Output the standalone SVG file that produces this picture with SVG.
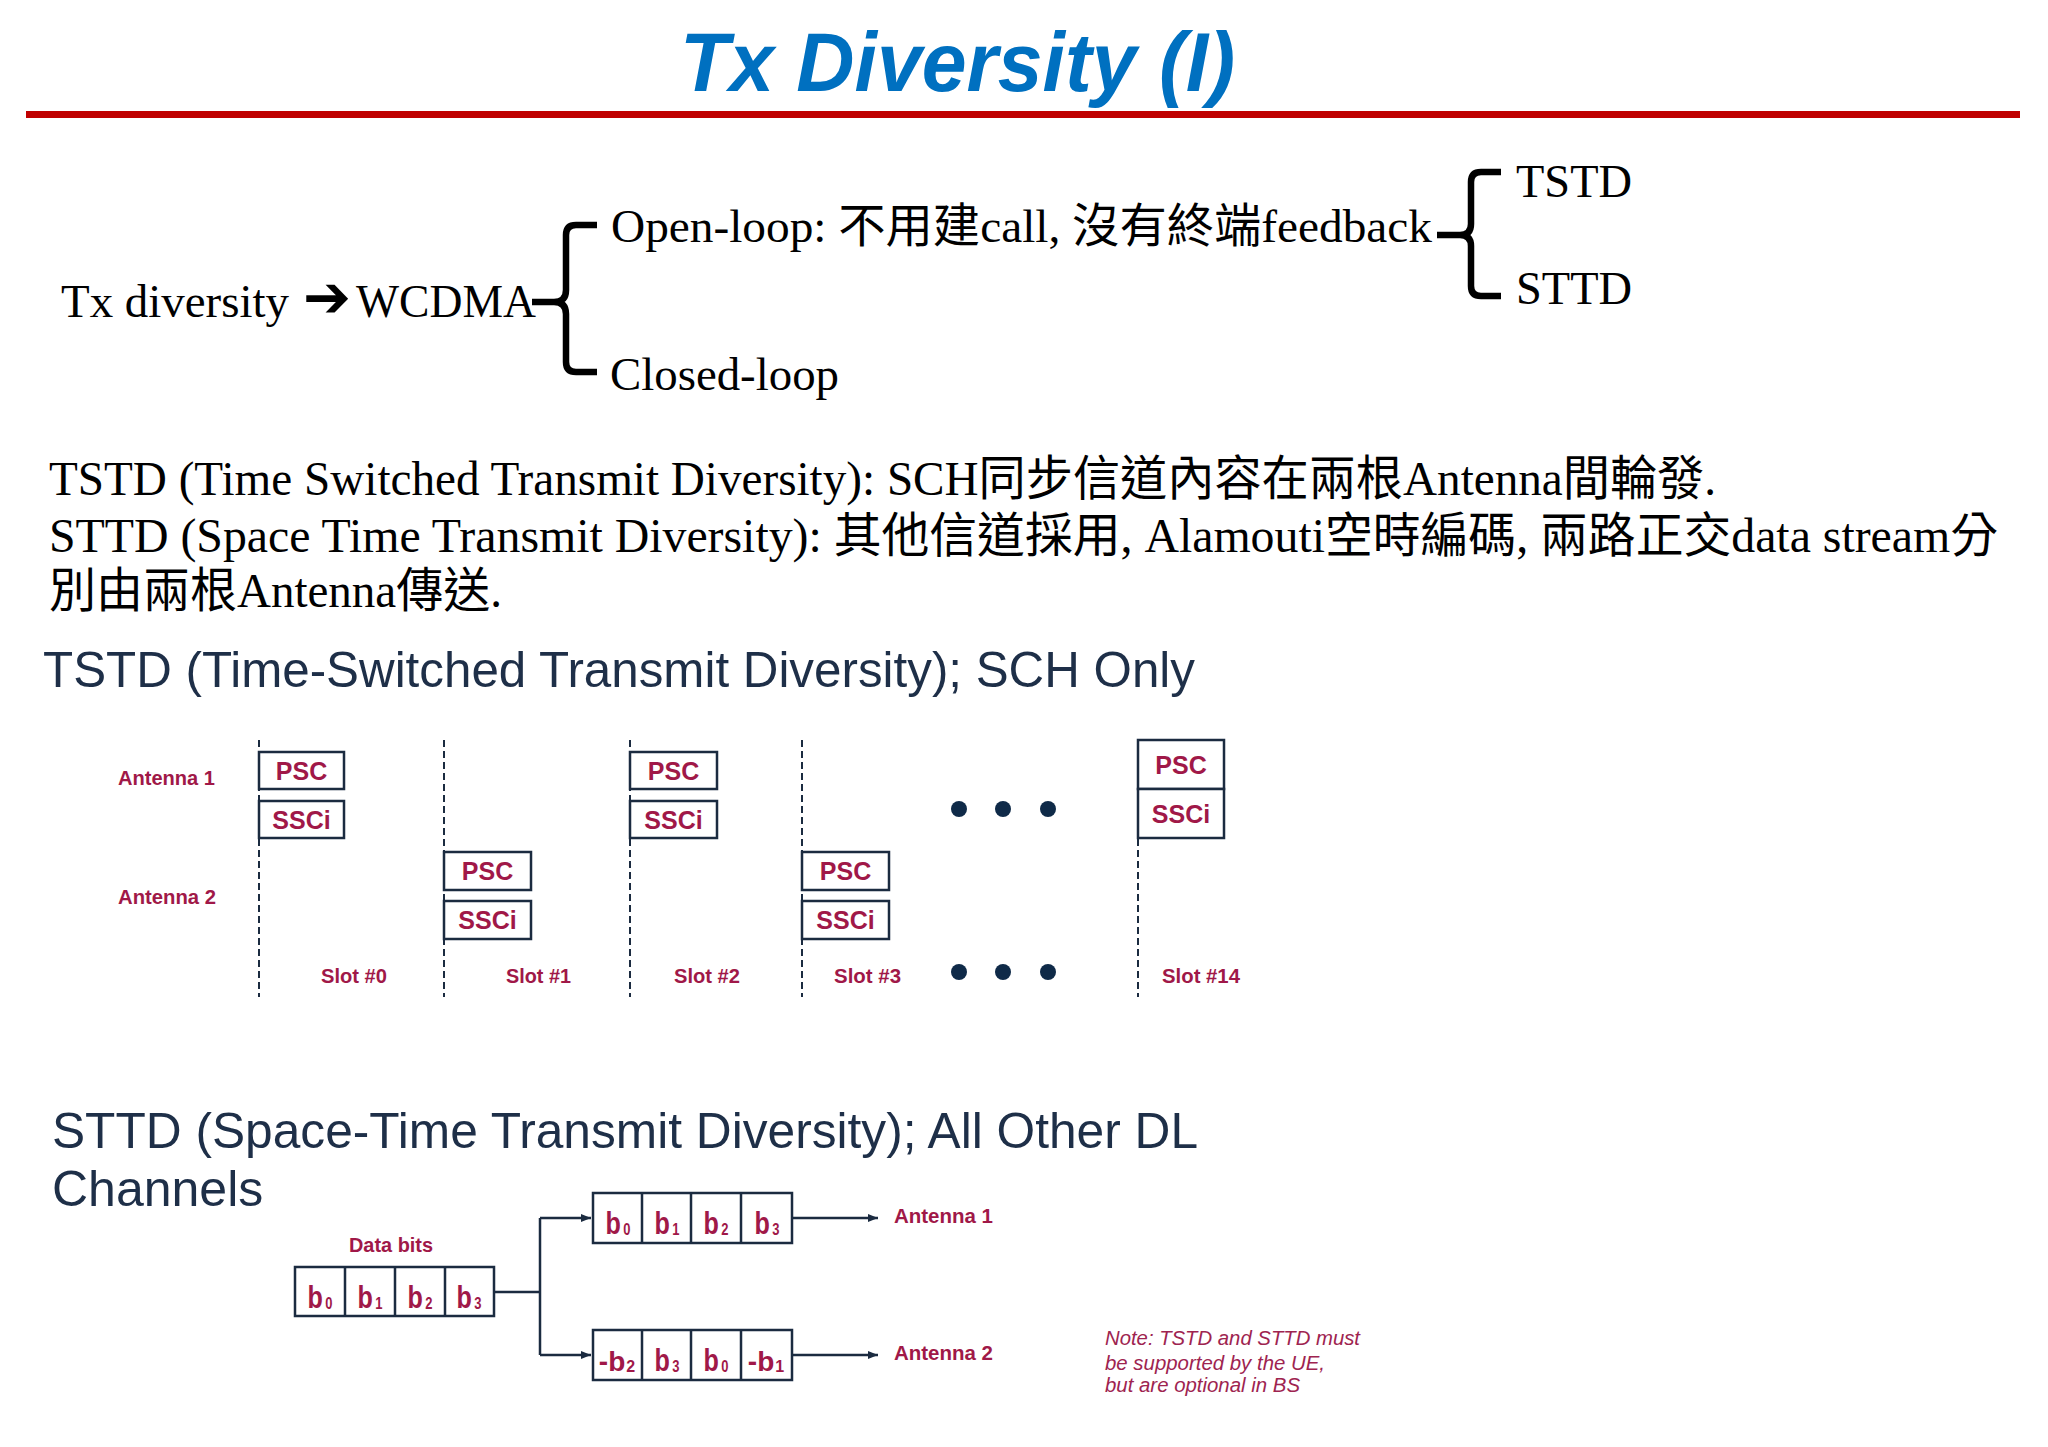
<svg xmlns="http://www.w3.org/2000/svg" width="2048" height="1447" viewBox="0 0 2048 1447">
<defs>
<style>
.serif{font-family:'Liberation Serif','Noto Sans CJK TC',serif;fill:#000}
.t47{font-size:47px}
.p48{font-size:48px}
.head{font-family:'Liberation Sans',Arial,sans-serif;font-size:50px;fill:#1E2F48}
.lbl{font-family:'Liberation Sans',Arial,sans-serif;font-weight:bold;fill:#A01848}
.s20{font-size:20px}
.s25{font-size:25px}
.cell{font-size:31px}
.ncell{font-size:28px}
.sub{font-size:16px}
.note{font-family:'Liberation Sans',Arial,sans-serif;font-style:italic;font-size:20px;fill:#9E2450}
.box{fill:#fff;stroke:#1B2B40;stroke-width:2.5}
.dash{stroke:#1B2B40;stroke-width:2;stroke-dasharray:7 4;fill:none}
.conn{stroke:#1B2B40;stroke-width:2.5;fill:none}
.brace{stroke:#000;stroke-width:6.5;fill:none;stroke-linejoin:round;stroke-linecap:butt}
.dot{fill:#0F2A48}
</style>
<marker id="ah" viewBox="0 0 10 8" refX="10" refY="4" markerWidth="4" markerHeight="3.2" orient="auto" markerUnits="strokeWidth">
<path d="M0,0 L10,4 L0,8 z" fill="#1B2B40"/>
</marker>
</defs>
<rect width="2048" height="1447" fill="#fff"/>

<g id="title">
<text x="680" y="91" font-family="'Liberation Sans',Arial,sans-serif" font-weight="bold" font-style="italic" font-size="84" fill="#0070C0" textLength="555" lengthAdjust="spacingAndGlyphs">Tx Diversity (I)</text>
<rect x="26" y="111" width="1994" height="7" fill="#C00000"/>
</g>

<g id="tree">
<g id="node-tx"><text class="serif t47" x="61" y="317" textLength="228" lengthAdjust="spacingAndGlyphs">Tx diversity</text></g>
<g id="node-arrow"><text x="303" y="317" font-family="'DejaVu Sans',sans-serif" font-weight="bold" font-size="58" textLength="48" lengthAdjust="spacingAndGlyphs">➔</text></g>
<g id="node-wcdma"><text class="serif t47" x="356" y="317" textLength="180" lengthAdjust="spacingAndGlyphs">WCDMA</text></g>
<g id="node-open"><text class="serif t47" x="611" y="242" textLength="821" lengthAdjust="spacingAndGlyphs">Open-loop: 不用建call, 沒有終端feedback</text></g>
<g id="node-closed"><text class="serif t47" x="610" y="390" textLength="229" lengthAdjust="spacingAndGlyphs">Closed-loop</text></g>
<g id="node-tstd"><text class="serif t47" x="1516" y="197" textLength="116" lengthAdjust="spacingAndGlyphs">TSTD</text></g>
<g id="node-sttd"><text class="serif t47" x="1516" y="304" textLength="116" lengthAdjust="spacingAndGlyphs">STTD</text></g>
<g id="braces">
<path class="brace" d="M597,225 L576,225 Q566,225 566,235 L566,290 Q566,302 554,302 L532,302 M554,302 Q566,302 566,314 L566,362 Q566,372 576,372 L597,372"/>
<path class="brace" d="M1501,172 L1481,172 Q1471,172 1471,182 L1471,224 Q1471,235 1460,235 L1437,235 M1460,235 Q1471,235 1471,246 L1471,286 Q1471,296 1481,296 L1501,296"/>
</g>
</g>

<g id="paragraph">
<text class="serif p48" x="49" y="495" textLength="1667" lengthAdjust="spacingAndGlyphs">TSTD (Time Switched Transmit Diversity): SCH同步信道內容在兩根Antenna間輪發.</text>
<text class="serif p48" x="49" y="552" textLength="1949" lengthAdjust="spacingAndGlyphs">STTD (Space Time Transmit Diversity): 其他信道採用, Alamouti空時編碼, 兩路正交data stream分</text>
<text class="serif p48" x="49" y="607" textLength="453" lengthAdjust="spacingAndGlyphs">別由兩根Antenna傳送.</text>
</g>

<g id="tstd-figure">
<text class="head" x="43" y="687" textLength="1152" lengthAdjust="spacingAndGlyphs">TSTD (Time-Switched Transmit Diversity); SCH Only</text>
<g id="antenna-labels">
<text class="lbl s20" x="118" y="785" textLength="97" lengthAdjust="spacingAndGlyphs">Antenna 1</text>
<text class="lbl s20" x="118" y="904" textLength="98" lengthAdjust="spacingAndGlyphs">Antenna 2</text>
</g>
<g id="slot-lines">
<line class="dash" x1="259" y1="740" x2="259" y2="997"/>
<line class="dash" x1="444" y1="740" x2="444" y2="997"/>
<line class="dash" x1="630" y1="740" x2="630" y2="997"/>
<line class="dash" x1="802" y1="740" x2="802" y2="997"/>
<line class="dash" x1="1138" y1="740" x2="1138" y2="997"/>
</g>
<g id="slot0">
<rect class="box" x="259" y="752" width="85" height="37"/>
<text class="lbl s25" x="301.5" y="780" text-anchor="middle">PSC</text>
<rect class="box" x="259" y="801" width="85" height="37"/>
<text class="lbl s25" x="301.5" y="829" text-anchor="middle">SSCi</text>
<text class="lbl s20" x="321" y="983" textLength="66" lengthAdjust="spacingAndGlyphs">Slot #0</text>
</g>
<g id="slot1">
<rect class="box" x="444" y="852" width="87" height="38"/>
<text class="lbl s25" x="487.5" y="880" text-anchor="middle">PSC</text>
<rect class="box" x="444" y="901" width="87" height="38"/>
<text class="lbl s25" x="487.5" y="929" text-anchor="middle">SSCi</text>
<text class="lbl s20" x="506" y="983" textLength="65" lengthAdjust="spacingAndGlyphs">Slot #1</text>
</g>
<g id="slot2">
<rect class="box" x="630" y="752" width="87" height="37"/>
<text class="lbl s25" x="673.5" y="780" text-anchor="middle">PSC</text>
<rect class="box" x="630" y="801" width="87" height="37"/>
<text class="lbl s25" x="673.5" y="829" text-anchor="middle">SSCi</text>
<text class="lbl s20" x="674" y="983" textLength="66" lengthAdjust="spacingAndGlyphs">Slot #2</text>
</g>
<g id="slot3">
<rect class="box" x="802" y="852" width="87" height="38"/>
<text class="lbl s25" x="845.5" y="880" text-anchor="middle">PSC</text>
<rect class="box" x="802" y="901" width="87" height="38"/>
<text class="lbl s25" x="845.5" y="929" text-anchor="middle">SSCi</text>
<text class="lbl s20" x="834" y="983" textLength="67" lengthAdjust="spacingAndGlyphs">Slot #3</text>
</g>
<g id="ellipsis">
<circle class="dot" cx="959" cy="809" r="8"/>
<circle class="dot" cx="1003" cy="809" r="8"/>
<circle class="dot" cx="1048" cy="809" r="8"/>
<circle class="dot" cx="959" cy="972" r="8"/>
<circle class="dot" cx="1003" cy="972" r="8"/>
<circle class="dot" cx="1048" cy="972" r="8"/>
</g>
<g id="slot14">
<rect class="box" x="1138" y="740" width="86" height="49"/>
<text class="lbl s25" x="1181" y="774" text-anchor="middle">PSC</text>
<rect class="box" x="1138" y="789" width="86" height="49"/>
<text class="lbl s25" x="1181" y="823" text-anchor="middle">SSCi</text>
<text class="lbl s20" x="1162" y="983" textLength="78" lengthAdjust="spacingAndGlyphs">Slot #14</text>
</g>
</g>

<g id="sttd-figure">
<text class="head" x="52" y="1148" textLength="1146" lengthAdjust="spacingAndGlyphs">STTD (Space-Time Transmit Diversity); All Other DL</text>
<text class="head" x="52" y="1206">Channels</text>

<g id="connectors">
<path class="conn" d="M494,1292 H540"/>
<path class="conn" d="M540,1218 V1355"/>
<path class="conn" d="M540,1218 H591" marker-end="url(#ah)"/>
<path class="conn" d="M540,1355 H591" marker-end="url(#ah)"/>
<path class="conn" d="M792,1218 H878" marker-end="url(#ah)"/>
<path class="conn" d="M792,1355 H878" marker-end="url(#ah)"/>
</g>

<g id="data-bits">
<text class="lbl s20" x="391" y="1252" text-anchor="middle" textLength="84" lengthAdjust="spacingAndGlyphs">Data bits</text>
<rect class="box" x="295" y="1267" width="199" height="49"/>
<path class="conn" d="M345,1267 V1316 M395,1267 V1316 M445,1267 V1316"/>
<text class="lbl cell" x="320" y="1308" text-anchor="middle" textLength="25" lengthAdjust="spacingAndGlyphs">b<tspan class="sub" dx="3" dy="1">0</tspan></text>
<text class="lbl cell" x="370" y="1308" text-anchor="middle" textLength="25" lengthAdjust="spacingAndGlyphs">b<tspan class="sub" dx="3" dy="1">1</tspan></text>
<text class="lbl cell" x="420" y="1308" text-anchor="middle" textLength="25" lengthAdjust="spacingAndGlyphs">b<tspan class="sub" dx="3" dy="1">2</tspan></text>
<text class="lbl cell" x="469" y="1308" text-anchor="middle" textLength="25" lengthAdjust="spacingAndGlyphs">b<tspan class="sub" dx="3" dy="1">3</tspan></text>
</g>

<g id="antenna1-bits">
<rect class="box" x="593" y="1193" width="199" height="50"/>
<path class="conn" d="M642,1193 V1243 M691,1193 V1243 M741,1193 V1243"/>
<text class="lbl cell" x="618" y="1234" text-anchor="middle" textLength="25" lengthAdjust="spacingAndGlyphs">b<tspan class="sub" dx="3" dy="1">0</tspan></text>
<text class="lbl cell" x="667" y="1234" text-anchor="middle" textLength="25" lengthAdjust="spacingAndGlyphs">b<tspan class="sub" dx="3" dy="1">1</tspan></text>
<text class="lbl cell" x="716" y="1234" text-anchor="middle" textLength="25" lengthAdjust="spacingAndGlyphs">b<tspan class="sub" dx="3" dy="1">2</tspan></text>
<text class="lbl cell" x="767" y="1234" text-anchor="middle" textLength="25" lengthAdjust="spacingAndGlyphs">b<tspan class="sub" dx="3" dy="1">3</tspan></text>
<text class="lbl s20" x="894" y="1223" textLength="99" lengthAdjust="spacingAndGlyphs">Antenna 1</text>
</g>

<g id="antenna2-bits">
<rect class="box" x="593" y="1330" width="199" height="50"/>
<path class="conn" d="M642,1330 V1380 M691,1330 V1380 M741,1330 V1380"/>
<text class="lbl ncell" x="617" y="1371" text-anchor="middle">-b<tspan class="sub" dx="1" dy="1">2</tspan></text>
<text class="lbl cell" x="667" y="1371" text-anchor="middle" textLength="25" lengthAdjust="spacingAndGlyphs">b<tspan class="sub" dx="3" dy="1">3</tspan></text>
<text class="lbl cell" x="716" y="1371" text-anchor="middle" textLength="25" lengthAdjust="spacingAndGlyphs">b<tspan class="sub" dx="3" dy="1">0</tspan></text>
<text class="lbl ncell" x="766" y="1371" text-anchor="middle">-b<tspan class="sub" dx="1" dy="1">1</tspan></text>
<text class="lbl s20" x="894" y="1360" textLength="99" lengthAdjust="spacingAndGlyphs">Antenna 2</text>
</g>

<g id="note">
<text class="note" x="1105" y="1345" textLength="255" lengthAdjust="spacingAndGlyphs">Note: TSTD and STTD must</text>
<text class="note" x="1105" y="1370" textLength="220" lengthAdjust="spacingAndGlyphs">be supported by the UE,</text>
<text class="note" x="1105" y="1392" textLength="195" lengthAdjust="spacingAndGlyphs">but are optional in BS</text>
</g>
</g>
</svg>
